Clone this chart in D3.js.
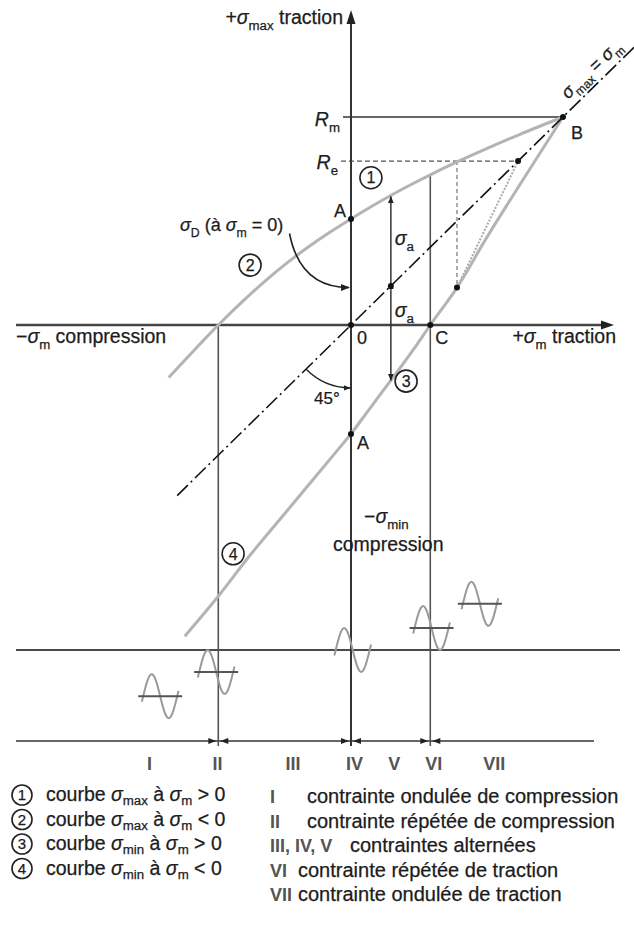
<!DOCTYPE html>
<html>
<head>
<meta charset="utf-8">
<script src="https://cdn.jsdelivr.net/npm/d3@7"></script>
<style>
  body { margin: 0; background: #fff; }
  svg text { font-family: "Liberation Sans", Arial, Helvetica, sans-serif; fill: #1c1c1c; stroke: #1c1c1c; stroke-width: 0.25px; }
</style>
</head>
<body>
<svg id="chart" width="634" height="930"></svg>
<script>
// ---- Material values (MPa) ----
const Rm = 500;          // ultimate strength
const Re = 394;          // yield strength
const sigmaD = 255;      // endurance limit at σm = 0
const sigmaC = 187;      // σm where σmin = 0 (point C)
const sigmaII = -313;    // σm where σmax = 0 (boundary II)

// curve ① σmax for σm > 0
const c1M = [0, 50, 100, 150, 187, 250, 320, 400, 500];
const c1S = [255, 286, 315, 342, 361, 392, 424, 459, 500];
// curve ② σmax for σm < 0
const c2M = [0, -50, -100, -150, -200, -250, -313, -360, -430];
const c2S = [255, 223, 188, 150, 108, 62, 0, -50, -126];
// curve ③ σmin for σm > 0
const c3M = [0, 50, 100, 150, 187, 250, 320, 400, 500];
const c3S = [-262, -193, -125, -55, 0, 90, 210, 340, 500];
// curve ④ σmin for σm < 0
const c4M = [0, -80, -160, -240, -313, -392];
const c4S = [-262, -360, -458, -556, -652, -748];

// σmax = σm reference line extent
const diagM = [-410, 670];

// amplitude example (σa) at one mean stress
const saMean = 94, saMax = 311, saMin = -133;

// regimes: roman labels and their mean-stress position
const romanLabels = ["I", "II", "III", "IV", "V", "VI", "VII"];
const romanM = [-475, -315, -137, 8, 102, 195, 338];
const boundaryM = [sigmaII, 0, sigmaC];

// sample signals: mean level in amplitude units, placed at a mean-stress position
const waveM = [-450, -318, 4, 190, 304];
const waveMean = [-2.1, -1, 0, 1, 2.1];
const waveHasBar = [true, true, false, true, true];

// legend
const curveLegend = [
  ["1", "max", "> 0"],
  ["2", "max", "< 0"],
  ["3", "min", "> 0"],
  ["4", "min", "< 0"]
];
const regimeLegendKeys = ["I", "II", "III, IV, V", "VI", "VII"];
const regimeLegendText = [
  "contrainte ondulée de compression",
  "contrainte répétée de compression",
  "contraintes alternées",
  "contrainte répétée de traction",
  "contrainte ondulée de traction"
];

// ---- Scales ----
const x = d3.scaleLinear().domain([0, 500]).range([351, 563]);
const y = d3.scaleLinear().domain([0, 500]).range([325, 117]);
const xMin = 16, xMax = 614, yTop = 10, yBottomAxis = 741, yEnd = 746;
const ySignal = 650;                 // zero line of the sample signals
const ampPx = 22;                    // signal amplitude in px
const yw = d3.scaleLinear().domain([0, 1]).range([ySignal, ySignal - ampPx]);

const svg = d3.select("#chart");
const defs = svg.append("defs");

function marker(id, color, w) {
  defs.append("marker").attr("id", id)
    .attr("viewBox", "0 0 10 10").attr("refX", 9).attr("refY", 5)
    .attr("markerWidth", w).attr("markerHeight", w)
    .attr("markerUnits", "userSpaceOnUse")
    .attr("orient", "auto-start-reverse")
    .append("path").attr("d", "M0,1 L10,5 L0,9 Z").attr("fill", color);
}
marker("arr", "#222", 9);
marker("arrSmall", "#222", 7);
defs.append("filter").attr("id", "soft")
  .append("feGaussianBlur").attr("stdDeviation", 0.5);

const pts = (ms, ss) => ms.map((m, i) => [m, ss[i]]);
const curveLine = d3.line().x(d => x(d[0])).y(d => y(d[1])).curve(d3.curveCatmullRom.alpha(0.5));

// ---- Regime boundaries and axes ----
const g = svg.append("g");

// lower signal zero line and bottom regime axis
g.append("line").attr("x1", xMin).attr("x2", 620).attr("y1", ySignal).attr("y2", ySignal)
  .attr("stroke", "#4a4a4a").attr("stroke-width", 2);
g.append("line").attr("x1", xMin).attr("x2", 594).attr("y1", yBottomAxis).attr("y2", yBottomAxis)
  .attr("stroke", "#333").attr("stroke-width", 1.5);

// vertical boundaries II and VI
g.append("line").attr("x1", x(sigmaII)).attr("x2", x(sigmaII)).attr("y1", y(0)).attr("y2", yEnd)
  .attr("stroke", "#555").attr("stroke-width", 1.6);
g.append("line").attr("x1", x(sigmaC)).attr("x2", x(sigmaC)).attr("y1", y(c1S[4])).attr("y2", yEnd)
  .attr("stroke", "#555").attr("stroke-width", 1.6);

// Rm line and Re dashed line
g.append("line").attr("x1", x(0) - 8).attr("x2", x(Rm)).attr("y1", y(Rm)).attr("y2", y(Rm))
  .attr("stroke", "#333").attr("stroke-width", 1.5);
g.append("line").attr("x1", x(0) - 10).attr("x2", x(Re)).attr("y1", y(Re)).attr("y2", y(Re))
  .attr("stroke", "#555").attr("stroke-width", 1.4).attr("stroke-dasharray", "5 3");
// vertical dashed drop from the Re intersection
g.append("line").attr("x1", x(c1M[5])).attr("x2", x(c1M[5])).attr("y1", y(Re)).attr("y2", y(c3S[5]))
  .attr("stroke", "#888").attr("stroke-width", 1.4).attr("stroke-dasharray", "4 3");
// dotted closure from the lower curve to (Re, Re)
g.append("line").attr("x1", x(c3M[5])).attr("x2", x(Re)).attr("y1", y(c3S[5])).attr("y2", y(Re))
  .attr("stroke", "#aaa").attr("stroke-width", 2).attr("stroke-dasharray", "2 1.5");

// main axes
g.append("line").attr("x1", xMin).attr("x2", xMax - 8).attr("y1", y(0)).attr("y2", y(0))
  .attr("stroke", "#444").attr("stroke-width", 2.4);
g.append("path").attr("d", `M${xMax},${y(0)} L${xMax - 13},${y(0) - 4.5} L${xMax - 13},${y(0) + 4.5} Z`).attr("fill", "#222");
g.append("line").attr("x1", x(0)).attr("x2", x(0)).attr("y1", yTop + 8).attr("y2", yEnd)
  .attr("stroke", "#333").attr("stroke-width", 2);
g.append("path").attr("d", `M${x(0)},${yTop} L${x(0) - 4.5},${yTop + 14} L${x(0) + 4.5},${yTop + 14} Z`).attr("fill", "#222");

// ---- Curves ----
const curves = svg.append("g").attr("fill", "none").attr("stroke", "#b4b4b4")
  .attr("stroke-width", 3).attr("filter", "url(#soft)");
[pts(c1M, c1S), pts(c2M, c2S), pts(c3M, c3S), pts(c4M, c4S)].forEach(d =>
  curves.append("path").attr("d", curveLine(d)));

// σmax = σm line
svg.append("line")
  .attr("x1", x(diagM[0])).attr("y1", y(diagM[0])).attr("x2", x(diagM[1])).attr("y2", y(diagM[1]))
  .attr("stroke", "#111").attr("stroke-width", 1.6).attr("stroke-dasharray", "15 4 2 4");

// σa arrows
const xa = x(saMean);
svg.append("line").attr("x1", xa).attr("x2", xa).attr("y1", y(saMean) - 2).attr("y2", y(saMax) + 1)
  .attr("stroke", "#333").attr("stroke-width", 1.5).attr("marker-end", "url(#arrSmall)");
svg.append("line").attr("x1", xa).attr("x2", xa).attr("y1", y(saMean) - 3).attr("y2", y(saMin))
  .attr("stroke", "#333").attr("stroke-width", 1.5)
  .attr("marker-start", "url(#arrSmall)").attr("marker-end", "url(#arrSmall)");

// 45° arc at origin
const r45 = 63;
const a0 = Math.PI * 3 / 4;
svg.append("path")
  .attr("d", `M${x(0) + r45 * Math.cos(a0)},${y(0) + r45 * Math.sin(a0)} A${r45},${r45} 0 0 0 ${x(0) - 1},${y(0) + r45}`)
  .attr("fill", "none").attr("stroke", "#222").attr("stroke-width", 1.4).attr("marker-end", "url(#arrSmall)");

// σD pointer
svg.append("path").attr("d", `M${x(-145)},${y(220)} Q${x(-120)},${y(90)} ${x(0) - 2},${y(90)}`)
  .attr("fill", "none").attr("stroke", "#222").attr("stroke-width", 1.6).attr("marker-end", "url(#arr)");

// key points
const keyPts = [[0, sigmaD], [0, c3S[0]], [0, 0], [sigmaC, 0], [Rm, Rm], [Re, Re], [c3M[5], c3S[5]], [saMean, saMean]];
svg.append("g").selectAll("circle").data(keyPts).join("circle")
  .attr("cx", d => x(d[0])).attr("cy", d => y(d[1])).attr("r", 3).attr("fill", "#111");

// ---- Sample signals ----
const waves = svg.append("g");
const tSamples = d3.range(-0.04, 1.0401, 0.02);
waveM.forEach((m, i) => {
  const cx = x(m), halfP = 17;
  const path = d3.line().x(t => cx - halfP + 2 * halfP * t).y(t => yw(waveMean[i] + Math.sin(2 * Math.PI * t)))
    .curve(d3.curveBasis);
  waves.append("path").attr("d", path(tSamples)).attr("fill", "none")
    .attr("stroke", "#9a9a9a").attr("stroke-width", 2).attr("filter", "url(#soft)");
  if (waveHasBar[i]) {
    waves.append("line").attr("x1", cx - 22).attr("x2", cx + 22)
      .attr("y1", yw(waveMean[i])).attr("y2", yw(waveMean[i]))
      .attr("stroke", "#555").attr("stroke-width", 2);
  }
});

// boundary arrows on the regime axis
boundaryM.forEach(m => {
  const bx = x(m);
  svg.append("path").attr("d", `M${bx - 2},${yBottomAxis} L${bx - 10},${yBottomAxis - 3} L${bx - 10},${yBottomAxis + 3} Z`).attr("fill", "#222");
  svg.append("path").attr("d", `M${bx + 2},${yBottomAxis} L${bx + 10},${yBottomAxis - 3} L${bx + 10},${yBottomAxis + 3} Z`).attr("fill", "#222");
});

// ---- Text ----
function rich(parent, px, py, parts, anchor = "start", size = 19.5, subShift = 0.32) {
  const t = parent.append("text").attr("x", px).attr("y", py)
    .attr("text-anchor", anchor).attr("font-size", size);
  let down = false;
  parts.forEach(([s, k = ""]) => {
    const ts = t.append("tspan").text(s);
    const sub = k.includes("s");
    if (sub && !down) { ts.attr("dy", size * subShift); down = true; }
    else if (!sub && down) { ts.attr("dy", -size * subShift); down = false; }
    if (sub) ts.attr("font-size", size * 0.68);
    if (k.includes("i")) ts.attr("font-style", "italic");
  });
  return t;
}
function circled(parent, cx, cy, n, r = 11, size = 16) {
  parent.append("circle").attr("cx", cx).attr("cy", cy).attr("r", r)
    .attr("fill", "#fff").attr("stroke", "#222").attr("stroke-width", 1.6);
  parent.append("text").attr("x", cx).attr("y", cy + size * 0.36).attr("text-anchor", "middle")
    .attr("font-size", size).text(n);
}

const lbl = svg.append("g");
rich(lbl, x(0) - 8, 24, [["+"], ["σ", "i"], ["max", "s"], [" traction"]], "end");
rich(lbl, x(0) - 11, y(Rm) + 9, [["R", "i"], ["m", "s"]], "end");
rich(lbl, x(0) - 13, y(Re) + 8, [["R", "i"], ["e", "s"]], "end");
rich(lbl, x(0) - 5, y(sigmaD) - 2, [["A"]], "end", 18);
rich(lbl, x(0) + 6, y(c3S[0]) + 15, [["A"]], "start", 18);
rich(lbl, 180, 231, [["σ", "i"], ["D", "s"], [" (à "], ["σ", "i"], ["m", "s"], [" = 0)"]], "start", 18);
rich(lbl, 16, 343, [["−"], ["σ", "i"], ["m", "s"], [" compression"]], "start");
rich(lbl, 616, 343, [["+"], ["σ", "i"], ["m", "s"], [" traction"]], "end");
rich(lbl, x(0) + 6, 344, [["0"]], "start", 18);
rich(lbl, x(sigmaC) + 5, 344, [["C"]], "start", 18);
rich(lbl, x(Rm) + 8, y(Rm) + 22, [["B"]], "start", 18);
rich(lbl, xa + 4, 245, [["σ", "i"], ["a", "s"]], "start");
rich(lbl, xa + 4, 317, [["σ", "i"], ["a", "s"]], "start");
rich(lbl, 314, 404, [["45°"]], "start", 17);
rich(lbl, 364, 523, [["−"], ["σ", "i"], ["min", "s"]], "start");
rich(lbl, 333, 551, [["compression"]], "start");

// rotated σmax = σm label
const dl = 590;
rich(lbl, 0, 0, [["σ", "i"], ["max", "s"], [" = "], ["σ", "i"], ["m", "s"]], "middle", 18)
  .attr("transform", `translate(${x(dl) - 6},${y(dl) - 6}) rotate(-44)`);

// circled curve numbers (placed in stress coordinates)
circled(lbl, x(47), y(354), "1");
circled(lbl, x(-238), y(144), "2");
circled(lbl, x(130), y(-135), "3");
circled(lbl, x(-278), y(-550), "4");

// regime labels
svg.append("g").selectAll("text").data(romanLabels).join("text")
  .attr("x", (d, i) => x(romanM[i])).attr("y", 770).attr("text-anchor", "middle")
  .attr("font-size", 18).attr("font-weight", "bold")
  .style("font-family", "'Liberation Sans Narrow', 'Liberation Sans', Arial, sans-serif")
  .style("fill", "#555").style("stroke", "none").text(d => d);

// ---- Legend ----
const leg = svg.append("g");
const rowY0 = 801, rowStep = 24.5;
curveLegend.forEach((d, i) => {
  const yy = rowY0 + i * rowStep;
  circled(leg, 22, yy - 6, d[0], 10, 15);
  rich(leg, 46, yy, [["courbe "], ["σ", "i"], [d[1], "s"], [" à "], ["σ", "i"], ["m", "s"], [" " + d[2]]], "start", 19.5, 0.22);
});
const keyX = 270;
const textX = [307, 307, 350, 298, 298];
regimeLegendKeys.forEach((k, i) => {
  const yy = rowY0 + 2 + i * rowStep;
  leg.append("text").attr("x", keyX).attr("y", yy).attr("font-size", 18).attr("font-weight", "bold")
    .style("font-family", "'Liberation Sans Narrow', 'Liberation Sans', Arial, sans-serif")
    .style("fill", "#555").style("stroke", "none").text(k);
  leg.append("text").attr("x", textX[i]).attr("y", yy).attr("font-size", 20).text(regimeLegendText[i]);
});
</script>
</body>
</html>
